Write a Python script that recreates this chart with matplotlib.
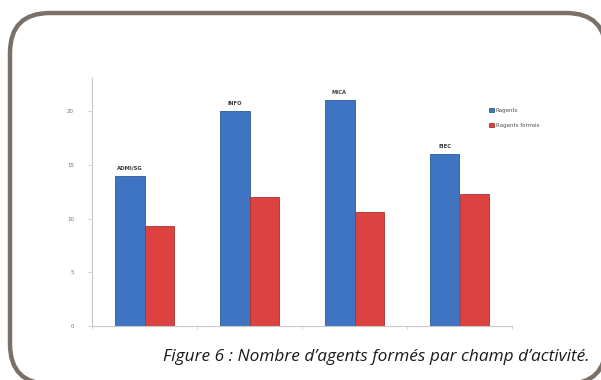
import matplotlib
matplotlib.use("Agg")
import matplotlib.pyplot as plt
import numpy as np
from matplotlib.patches import FancyBboxPatch

categories = ["ADMI/SG", "INFO", "MICA", "EIEC"]
agents = [14, 20, 21, 16]
agents_formes = [9.3, 12, 10.6, 12.3]
series_names = ["Ragents", "Ragents formés"]
yticks = [0, 5, 10, 15, 20]
caption = "Figure 6 : Nombre d\u2019agents formés par champ d\u2019activité."

fig = plt.figure(figsize=(6.01, 3.80), dpi=100)
fig.patch.set_facecolor("white")

# rounded frame, laid out in inches so the corners stay circular; a filled face
# keeps the renderer from clipping the outline onto the canvas edge
frame = FancyBboxPatch((0.10, -0.04), 5.96, 3.71, boxstyle="round,pad=0,rounding_size=0.40",
                       transform=fig.dpi_scale_trans, facecolor="white",
                       edgecolor="#7a7068", linewidth=3.2, zorder=-1)
fig.patches.append(frame)

ax = fig.add_axes([92 / 601, 1 - 326 / 380, 420 / 601, 248 / 380])
x = np.arange(len(categories))
w = 0.2857
blue = "#3f74c2"
red = "#db4240"
ax.bar(x - w / 2, agents, w, color=blue, edgecolor="#2d5a9a", linewidth=0.6,
       label=series_names[0], zorder=2)
ax.bar(x + w / 2, agents_formes, w, color=red, edgecolor="#a83230", linewidth=0.6,
       label=series_names[1], zorder=2)

for xi, v, name in zip(x, agents, categories):
    ax.text(xi - w / 2, v + 0.45, name, ha="center", va="bottom", fontsize=3.8,
            color="#38383f", fontweight="bold")

ax.set_xlim(-0.5, len(categories) - 0.5)
ax.set_ylim(0, 23.07)
ax.set_yticks(yticks)
ax.set_yticklabels([str(t) for t in yticks])
ax.set_xticks(np.arange(len(categories) + 1) - 0.5)
ax.set_xticklabels([])
ax.tick_params(axis="y", labelsize=4, labelcolor="#707070", length=3, width=0.5,
               color="#c0c0c0", pad=10)
ax.tick_params(axis="x", length=2, width=0.5, color="#c0c0c0")
for side in ["top", "right"]:
    ax.spines[side].set_visible(False)
for side in ["left", "bottom"]:
    ax.spines[side].set_color("#c8c8c8")
    ax.spines[side].set_linewidth(0.8)

leg = ax.legend(loc="upper left", bbox_to_anchor=(395 / 420, 1 - 28 / 248), frameon=False,
                fontsize=4, handlelength=0.9, handleheight=0.7, handletextpad=0.3,
                labelspacing=1.6, borderaxespad=0)
for t in leg.get_texts():
    t.set_color("#505058")

fig.text(163 / 601, 1 - 357 / 380, caption, ha="left", va="center", fontsize=12.4,
         style="italic", family="Open Sans", color="#1a1a1a")

fig.savefig("out.png", dpi=100, facecolor="white")
